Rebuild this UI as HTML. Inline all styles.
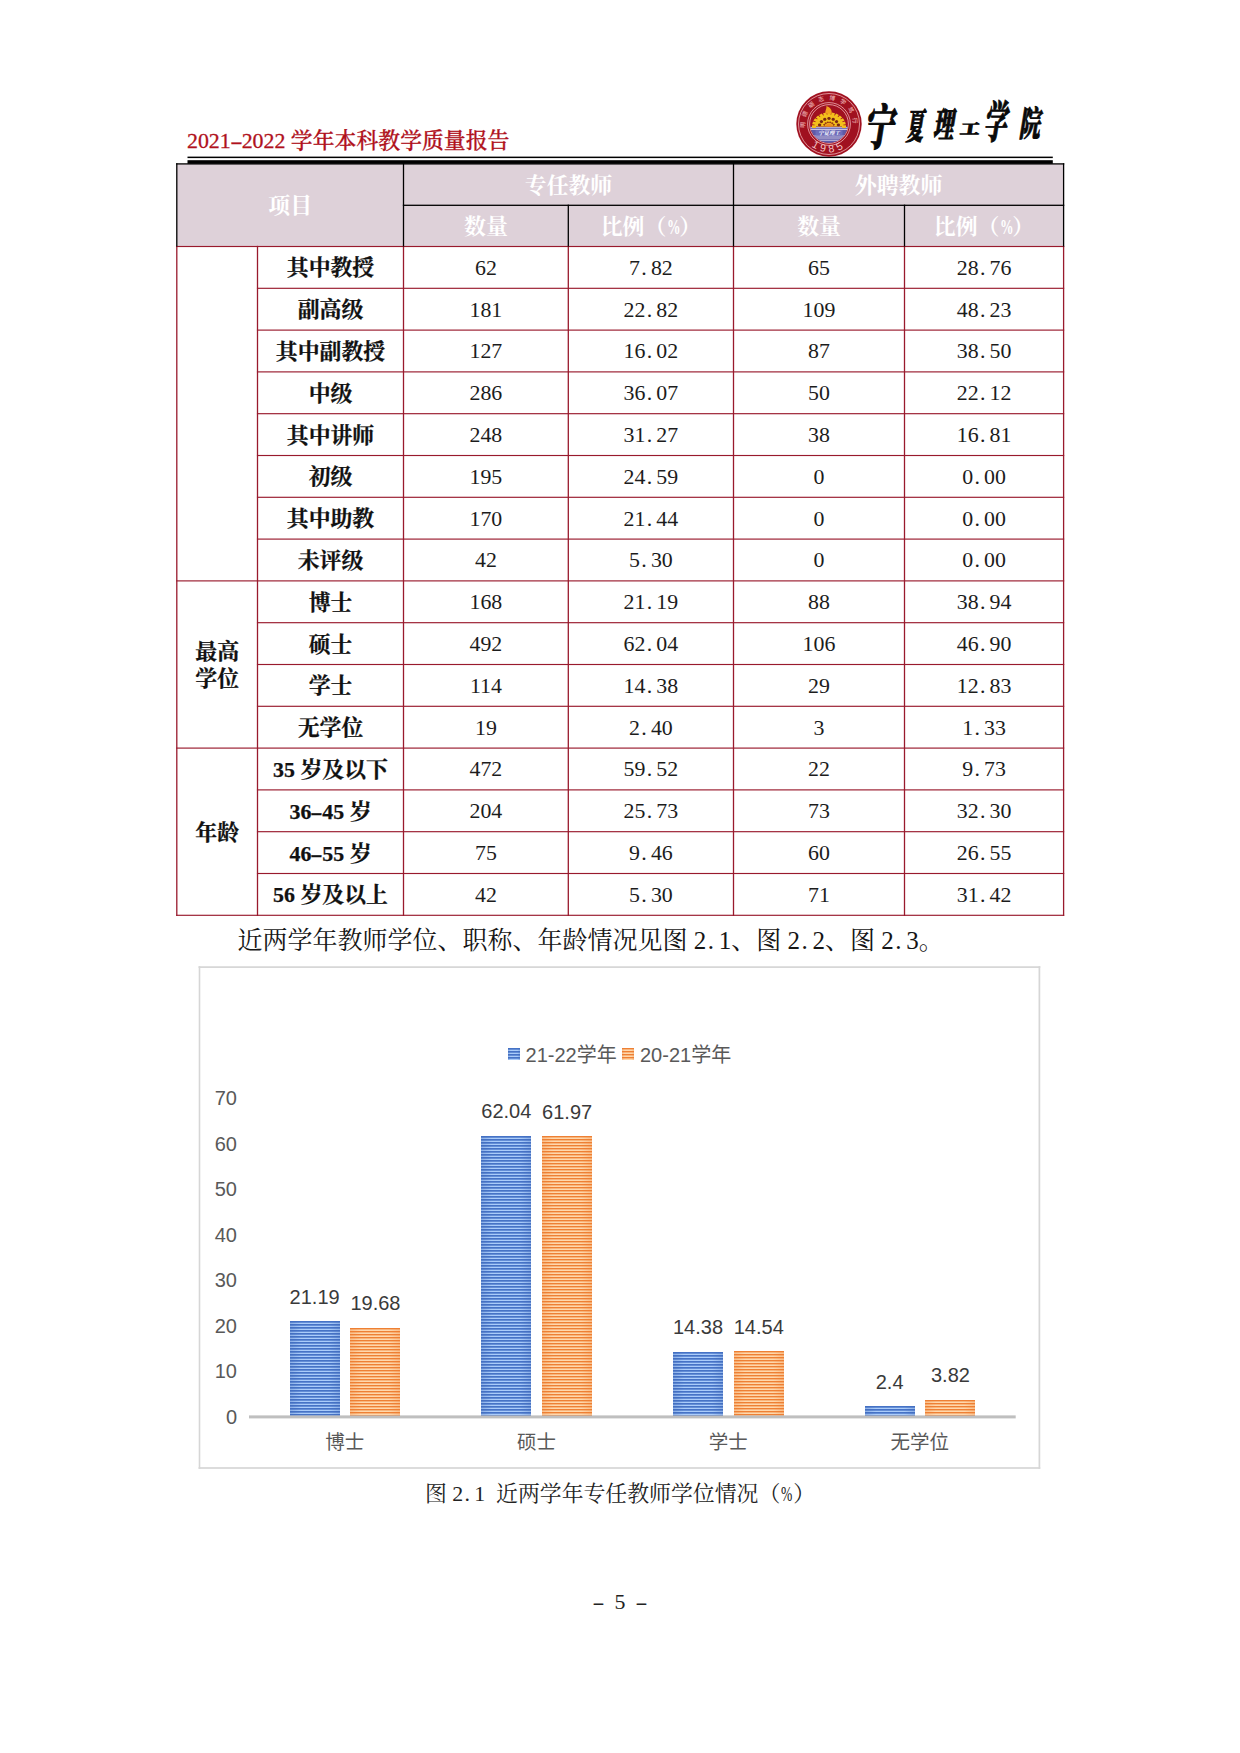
<!DOCTYPE html>
<html lang="zh-CN"><head><meta charset="utf-8"><title>2021-2022 学年本科教学质量报告</title>
<style>
html,body{margin:0;padding:0;background:#fff}
body{position:relative;width:1240px;height:1753px;overflow:hidden;font-family:"Liberation Serif","Noto Serif CJK SC",serif;color:#151515}
.ln{position:absolute}
.c{position:absolute;display:flex;align-items:center;justify-content:center;text-align:center;font-size:21.875px;line-height:27.5px;white-space:nowrap}
.c>span{display:inline-block;position:relative}
.lb>span,.th>span{top:1.8px}
.nm>span{top:1.1px}
.th{color:#fff;font-weight:700}
.lb{font-weight:700;color:#111;-webkit-text-stroke:0.25px #111}
.nm{color:#1c1c1c}
.dot{display:inline-block;width:0.5em;text-align:left;text-indent:0.06em}
.sp{display:inline-block;width:0.25em}
.hs{display:inline-block;width:0.5em}
.hy{display:inline-block;width:0.5em;text-align:center;transform:scaleX(1.7)}
.pc{display:inline-block;width:0.56em;margin-left:0.03em;transform:scaleX(.62);transform-origin:0 50%}
.hd{position:absolute;font-size:21.875px;line-height:30px;color:#b0111c;font-weight:500;white-space:nowrap;-webkit-text-stroke:0.3px #b0111c}
.para{position:absolute;font-size:25px;line-height:40px;white-space:nowrap;color:#151515}
.cap{position:absolute;font-size:21.875px;line-height:30px;text-align:center;white-space:nowrap;color:#222}
.chart{position:absolute;border:1.5px solid #d9d9d9;box-sizing:border-box;background:#fff}
.ax{position:absolute;font-family:"Liberation Sans","Noto Sans CJK SC",sans-serif;font-size:20px;line-height:24px;color:#595959;white-space:nowrap}
.yl{text-align:right}
.dl{text-align:center;color:#3a3a3a}
.cl{text-align:center;font-size:19.5px}
.bar{position:absolute}
.b1{background:linear-gradient(90deg,rgba(60,100,180,.28),rgba(60,100,180,0) 22%,rgba(60,100,180,0) 78%,rgba(60,100,180,.28)),linear-gradient(180deg,#4673c6 0,#4673c6 33.33%,#648ed6 33.33%,#648ed6 66.67%,#aaccfa 66.67%,#aaccfa 100%);background-size:100% 100%,100% 3px}
.b2{background:linear-gradient(90deg,rgba(237,125,49,.28),rgba(237,125,49,0) 22%,rgba(237,125,49,0) 78%,rgba(237,125,49,.28)),linear-gradient(180deg,#ee8034 0,#ee8034 33.33%,#f8b57c 33.33%,#f8b57c 66.67%,#ffd8ac 66.67%,#ffd8ac 100%);background-size:100% 100%,100% 3px}
.cal{position:absolute;-webkit-text-stroke:0.5px #0a0a0a;width:30px;height:30px;font-size:30px;line-height:30px;font-weight:900;color:#0a0a0a;font-family:"Liberation Serif","Noto Serif CJK SC",serif;text-align:center}
</style></head>
<body>
<svg class="ln" style="left:0;top:0" width="1240" height="1753" viewBox="0 0 1240 1753"><rect x="176.8" y="163.9" width="886.8" height="82.6" fill="#ded1d9"/><rect x="187.50" y="156.60" width="865.30" height="1.50" fill="#000"/><rect x="187.50" y="160.20" width="865.30" height="3.60" fill="#000"/><rect x="256.93" y="287.73" width="807.25" height="1.15" fill="#991a2d"/><rect x="256.93" y="329.53" width="807.25" height="1.15" fill="#991a2d"/><rect x="256.93" y="371.32" width="807.25" height="1.15" fill="#991a2d"/><rect x="256.93" y="413.12" width="807.25" height="1.15" fill="#991a2d"/><rect x="256.93" y="454.93" width="807.25" height="1.15" fill="#991a2d"/><rect x="256.93" y="496.72" width="807.25" height="1.15" fill="#991a2d"/><rect x="256.93" y="538.52" width="807.25" height="1.15" fill="#991a2d"/><rect x="176.23" y="580.32" width="887.95" height="1.15" fill="#991a2d"/><rect x="256.93" y="622.12" width="807.25" height="1.15" fill="#991a2d"/><rect x="256.93" y="663.92" width="807.25" height="1.15" fill="#991a2d"/><rect x="256.93" y="705.72" width="807.25" height="1.15" fill="#991a2d"/><rect x="176.23" y="747.52" width="887.95" height="1.15" fill="#991a2d"/><rect x="256.93" y="789.32" width="807.25" height="1.15" fill="#991a2d"/><rect x="256.93" y="831.12" width="807.25" height="1.15" fill="#991a2d"/><rect x="256.93" y="872.92" width="807.25" height="1.15" fill="#991a2d"/><rect x="176.23" y="914.72" width="887.95" height="1.15" fill="#991a2d"/><rect x="176.15" y="245.85" width="1.30" height="670.10" fill="#991a2d"/><rect x="256.85" y="245.85" width="1.30" height="670.10" fill="#991a2d"/><rect x="402.85" y="245.85" width="1.30" height="670.10" fill="#991a2d"/><rect x="567.65" y="245.85" width="1.30" height="670.10" fill="#991a2d"/><rect x="732.85" y="245.85" width="1.30" height="670.10" fill="#991a2d"/><rect x="903.85" y="245.85" width="1.30" height="670.10" fill="#991a2d"/><rect x="1062.95" y="245.85" width="1.30" height="670.10" fill="#991a2d"/><rect x="176.23" y="245.93" width="887.95" height="1.15" fill="#991a2d"/><rect x="176.15" y="163.25" width="888.10" height="1.30" fill="#000"/><rect x="402.85" y="204.65" width="661.40" height="1.30" fill="#000"/><rect x="176.15" y="163.25" width="1.30" height="83.30" fill="#000"/><rect x="402.85" y="163.25" width="1.30" height="83.30" fill="#000"/><rect x="732.85" y="163.25" width="1.30" height="83.30" fill="#000"/><rect x="1062.95" y="163.25" width="1.30" height="83.30" fill="#000"/><rect x="567.65" y="204.65" width="1.30" height="41.90" fill="#000"/><rect x="903.85" y="204.65" width="1.30" height="41.90" fill="#000"/><rect x="198.55" y="966.25" width="841.70" height="1.70" fill="#d6d6d6"/><rect x="198.55" y="1467.15" width="841.70" height="1.70" fill="#d6d6d6"/><rect x="198.70" y="966.20" width="1.60" height="502.60" fill="#d6d6d6"/><rect x="1038.55" y="966.15" width="1.70" height="502.70" fill="#d6d6d6"/></svg>
<div class="hd" style="left:187px;top:126px">2021<span class="hy">-</span>2022<span class="sp"></span>学年本科教学质量报告</div>
<div class="c th" style="left:176.80px;top:163.90px;width:226.70px;height:82.60px"><span>项目</span></div>
<div class="c th" style="left:403.50px;top:163.90px;width:330.00px;height:41.40px"><span>专任教师</span></div>
<div class="c th" style="left:733.50px;top:163.90px;width:330.10px;height:41.40px"><span>外聘教师</span></div>
<div class="c th" style="left:403.50px;top:205.30px;width:164.80px;height:41.20px"><span>数量</span></div>
<div class="c th" style="left:568.30px;top:205.30px;width:165.20px;height:41.20px"><span>比例（<span class="pc">%</span>）</span></div>
<div class="c th" style="left:733.50px;top:205.30px;width:171.00px;height:41.20px"><span>数量</span></div>
<div class="c th" style="left:904.50px;top:205.30px;width:159.10px;height:41.20px"><span>比例（<span class="pc">%</span>）</span></div>
<div class="c lb" style="left:257.50px;top:246.50px;width:146.00px;height:41.80px"><span>其中教授</span></div>
<div class="c nm" style="left:403.50px;top:246.50px;width:164.80px;height:41.80px"><span>62</span></div>
<div class="c nm" style="left:568.30px;top:246.50px;width:165.20px;height:41.80px"><span>7<span class="dot">.</span>82</span></div>
<div class="c nm" style="left:733.50px;top:246.50px;width:171.00px;height:41.80px"><span>65</span></div>
<div class="c nm" style="left:904.50px;top:246.50px;width:159.10px;height:41.80px"><span>28<span class="dot">.</span>76</span></div>
<div class="c lb" style="left:257.50px;top:288.30px;width:146.00px;height:41.80px"><span>副高级</span></div>
<div class="c nm" style="left:403.50px;top:288.30px;width:164.80px;height:41.80px"><span>181</span></div>
<div class="c nm" style="left:568.30px;top:288.30px;width:165.20px;height:41.80px"><span>22<span class="dot">.</span>82</span></div>
<div class="c nm" style="left:733.50px;top:288.30px;width:171.00px;height:41.80px"><span>109</span></div>
<div class="c nm" style="left:904.50px;top:288.30px;width:159.10px;height:41.80px"><span>48<span class="dot">.</span>23</span></div>
<div class="c lb" style="left:257.50px;top:330.10px;width:146.00px;height:41.80px"><span>其中副教授</span></div>
<div class="c nm" style="left:403.50px;top:330.10px;width:164.80px;height:41.80px"><span>127</span></div>
<div class="c nm" style="left:568.30px;top:330.10px;width:165.20px;height:41.80px"><span>16<span class="dot">.</span>02</span></div>
<div class="c nm" style="left:733.50px;top:330.10px;width:171.00px;height:41.80px"><span>87</span></div>
<div class="c nm" style="left:904.50px;top:330.10px;width:159.10px;height:41.80px"><span>38<span class="dot">.</span>50</span></div>
<div class="c lb" style="left:257.50px;top:371.90px;width:146.00px;height:41.80px"><span>中级</span></div>
<div class="c nm" style="left:403.50px;top:371.90px;width:164.80px;height:41.80px"><span>286</span></div>
<div class="c nm" style="left:568.30px;top:371.90px;width:165.20px;height:41.80px"><span>36<span class="dot">.</span>07</span></div>
<div class="c nm" style="left:733.50px;top:371.90px;width:171.00px;height:41.80px"><span>50</span></div>
<div class="c nm" style="left:904.50px;top:371.90px;width:159.10px;height:41.80px"><span>22<span class="dot">.</span>12</span></div>
<div class="c lb" style="left:257.50px;top:413.70px;width:146.00px;height:41.80px"><span>其中讲师</span></div>
<div class="c nm" style="left:403.50px;top:413.70px;width:164.80px;height:41.80px"><span>248</span></div>
<div class="c nm" style="left:568.30px;top:413.70px;width:165.20px;height:41.80px"><span>31<span class="dot">.</span>27</span></div>
<div class="c nm" style="left:733.50px;top:413.70px;width:171.00px;height:41.80px"><span>38</span></div>
<div class="c nm" style="left:904.50px;top:413.70px;width:159.10px;height:41.80px"><span>16<span class="dot">.</span>81</span></div>
<div class="c lb" style="left:257.50px;top:455.50px;width:146.00px;height:41.80px"><span>初级</span></div>
<div class="c nm" style="left:403.50px;top:455.50px;width:164.80px;height:41.80px"><span>195</span></div>
<div class="c nm" style="left:568.30px;top:455.50px;width:165.20px;height:41.80px"><span>24<span class="dot">.</span>59</span></div>
<div class="c nm" style="left:733.50px;top:455.50px;width:171.00px;height:41.80px"><span>0</span></div>
<div class="c nm" style="left:904.50px;top:455.50px;width:159.10px;height:41.80px"><span>0<span class="dot">.</span>00</span></div>
<div class="c lb" style="left:257.50px;top:497.30px;width:146.00px;height:41.80px"><span>其中助教</span></div>
<div class="c nm" style="left:403.50px;top:497.30px;width:164.80px;height:41.80px"><span>170</span></div>
<div class="c nm" style="left:568.30px;top:497.30px;width:165.20px;height:41.80px"><span>21<span class="dot">.</span>44</span></div>
<div class="c nm" style="left:733.50px;top:497.30px;width:171.00px;height:41.80px"><span>0</span></div>
<div class="c nm" style="left:904.50px;top:497.30px;width:159.10px;height:41.80px"><span>0<span class="dot">.</span>00</span></div>
<div class="c lb" style="left:257.50px;top:539.10px;width:146.00px;height:41.80px"><span>未评级</span></div>
<div class="c nm" style="left:403.50px;top:539.10px;width:164.80px;height:41.80px"><span>42</span></div>
<div class="c nm" style="left:568.30px;top:539.10px;width:165.20px;height:41.80px"><span>5<span class="dot">.</span>30</span></div>
<div class="c nm" style="left:733.50px;top:539.10px;width:171.00px;height:41.80px"><span>0</span></div>
<div class="c nm" style="left:904.50px;top:539.10px;width:159.10px;height:41.80px"><span>0<span class="dot">.</span>00</span></div>
<div class="c lb" style="left:257.50px;top:580.90px;width:146.00px;height:41.80px"><span>博士</span></div>
<div class="c nm" style="left:403.50px;top:580.90px;width:164.80px;height:41.80px"><span>168</span></div>
<div class="c nm" style="left:568.30px;top:580.90px;width:165.20px;height:41.80px"><span>21<span class="dot">.</span>19</span></div>
<div class="c nm" style="left:733.50px;top:580.90px;width:171.00px;height:41.80px"><span>88</span></div>
<div class="c nm" style="left:904.50px;top:580.90px;width:159.10px;height:41.80px"><span>38<span class="dot">.</span>94</span></div>
<div class="c lb" style="left:257.50px;top:622.70px;width:146.00px;height:41.80px"><span>硕士</span></div>
<div class="c nm" style="left:403.50px;top:622.70px;width:164.80px;height:41.80px"><span>492</span></div>
<div class="c nm" style="left:568.30px;top:622.70px;width:165.20px;height:41.80px"><span>62<span class="dot">.</span>04</span></div>
<div class="c nm" style="left:733.50px;top:622.70px;width:171.00px;height:41.80px"><span>106</span></div>
<div class="c nm" style="left:904.50px;top:622.70px;width:159.10px;height:41.80px"><span>46<span class="dot">.</span>90</span></div>
<div class="c lb" style="left:257.50px;top:664.50px;width:146.00px;height:41.80px"><span>学士</span></div>
<div class="c nm" style="left:403.50px;top:664.50px;width:164.80px;height:41.80px"><span>114</span></div>
<div class="c nm" style="left:568.30px;top:664.50px;width:165.20px;height:41.80px"><span>14<span class="dot">.</span>38</span></div>
<div class="c nm" style="left:733.50px;top:664.50px;width:171.00px;height:41.80px"><span>29</span></div>
<div class="c nm" style="left:904.50px;top:664.50px;width:159.10px;height:41.80px"><span>12<span class="dot">.</span>83</span></div>
<div class="c lb" style="left:257.50px;top:706.30px;width:146.00px;height:41.80px"><span>无学位</span></div>
<div class="c nm" style="left:403.50px;top:706.30px;width:164.80px;height:41.80px"><span>19</span></div>
<div class="c nm" style="left:568.30px;top:706.30px;width:165.20px;height:41.80px"><span>2<span class="dot">.</span>40</span></div>
<div class="c nm" style="left:733.50px;top:706.30px;width:171.00px;height:41.80px"><span>3</span></div>
<div class="c nm" style="left:904.50px;top:706.30px;width:159.10px;height:41.80px"><span>1<span class="dot">.</span>33</span></div>
<div class="c lb" style="left:257.50px;top:748.10px;width:146.00px;height:41.80px"><span>35<span class="sp"></span>岁及以下</span></div>
<div class="c nm" style="left:403.50px;top:748.10px;width:164.80px;height:41.80px"><span>472</span></div>
<div class="c nm" style="left:568.30px;top:748.10px;width:165.20px;height:41.80px"><span>59<span class="dot">.</span>52</span></div>
<div class="c nm" style="left:733.50px;top:748.10px;width:171.00px;height:41.80px"><span>22</span></div>
<div class="c nm" style="left:904.50px;top:748.10px;width:159.10px;height:41.80px"><span>9<span class="dot">.</span>73</span></div>
<div class="c lb" style="left:257.50px;top:789.90px;width:146.00px;height:41.80px"><span>36<span class="hy">-</span>45<span class="sp"></span>岁</span></div>
<div class="c nm" style="left:403.50px;top:789.90px;width:164.80px;height:41.80px"><span>204</span></div>
<div class="c nm" style="left:568.30px;top:789.90px;width:165.20px;height:41.80px"><span>25<span class="dot">.</span>73</span></div>
<div class="c nm" style="left:733.50px;top:789.90px;width:171.00px;height:41.80px"><span>73</span></div>
<div class="c nm" style="left:904.50px;top:789.90px;width:159.10px;height:41.80px"><span>32<span class="dot">.</span>30</span></div>
<div class="c lb" style="left:257.50px;top:831.70px;width:146.00px;height:41.80px"><span>46<span class="hy">-</span>55<span class="sp"></span>岁</span></div>
<div class="c nm" style="left:403.50px;top:831.70px;width:164.80px;height:41.80px"><span>75</span></div>
<div class="c nm" style="left:568.30px;top:831.70px;width:165.20px;height:41.80px"><span>9<span class="dot">.</span>46</span></div>
<div class="c nm" style="left:733.50px;top:831.70px;width:171.00px;height:41.80px"><span>60</span></div>
<div class="c nm" style="left:904.50px;top:831.70px;width:159.10px;height:41.80px"><span>26<span class="dot">.</span>55</span></div>
<div class="c lb" style="left:257.50px;top:873.50px;width:146.00px;height:41.80px"><span>56<span class="sp"></span>岁及以上</span></div>
<div class="c nm" style="left:403.50px;top:873.50px;width:164.80px;height:41.80px"><span>42</span></div>
<div class="c nm" style="left:568.30px;top:873.50px;width:165.20px;height:41.80px"><span>5<span class="dot">.</span>30</span></div>
<div class="c nm" style="left:733.50px;top:873.50px;width:171.00px;height:41.80px"><span>71</span></div>
<div class="c nm" style="left:904.50px;top:873.50px;width:159.10px;height:41.80px"><span>31<span class="dot">.</span>42</span></div>
<div class="c lb grp" style="left:176.80px;top:580.90px;width:80.70px;height:167.20px"><span>最高<br>学位</span></div>
<div class="c lb grp" style="left:176.80px;top:748.10px;width:80.70px;height:167.20px"><span>年龄</span></div>
<div class="para" style="left:237.5px;top:921px">近两学年教师学位、职称、年龄情况见图<span class="sp"></span>2<span class="dot">.</span>1、图<span class="sp"></span>2<span class="dot">.</span>2、图<span class="sp"></span>2<span class="dot">.</span>3。</div>
<div class="ax yl" style="left:199.5px;top:1404.90px;width:37.5px">0</div>
<div class="ax yl" style="left:199.5px;top:1359.40px;width:37.5px">10</div>
<div class="ax yl" style="left:199.5px;top:1313.90px;width:37.5px">20</div>
<div class="ax yl" style="left:199.5px;top:1268.40px;width:37.5px">30</div>
<div class="ax yl" style="left:199.5px;top:1222.90px;width:37.5px">40</div>
<div class="ax yl" style="left:199.5px;top:1177.40px;width:37.5px">50</div>
<div class="ax yl" style="left:199.5px;top:1131.90px;width:37.5px">60</div>
<div class="ax yl" style="left:199.5px;top:1086.40px;width:37.5px">70</div>
<div class="bar b1" style="left:289.64px;top:1321px;width:50px;height:96px"></div>
<div class="ax dl" style="left:264.64px;top:1284.60px;width:100px">21.19</div>
<div class="bar b2" style="left:350.44px;top:1328px;width:50px;height:89px"></div>
<div class="ax dl" style="left:325.44px;top:1291.45px;width:100px">19.68</div>
<div class="ax cl" style="left:284.84px;top:1430.30px;width:120px">博士</div>
<div class="bar b1" style="left:481.31px;top:1136px;width:50px;height:281px"></div>
<div class="ax dl" style="left:456.31px;top:1099.35px;width:100px">62.04</div>
<div class="bar b2" style="left:542.11px;top:1136px;width:50px;height:281px"></div>
<div class="ax dl" style="left:517.11px;top:1099.67px;width:100px">61.97</div>
<div class="ax cl" style="left:476.51px;top:1430.30px;width:120px">硕士</div>
<div class="bar b1" style="left:672.99px;top:1352px;width:50px;height:65px"></div>
<div class="ax dl" style="left:647.99px;top:1315.49px;width:100px">14.38</div>
<div class="bar b2" style="left:733.79px;top:1351px;width:50px;height:66px"></div>
<div class="ax dl" style="left:708.79px;top:1314.76px;width:100px">14.54</div>
<div class="ax cl" style="left:668.19px;top:1430.30px;width:120px">学士</div>
<div class="bar b1" style="left:864.66px;top:1406px;width:50px;height:11px"></div>
<div class="ax dl" style="left:839.66px;top:1369.82px;width:100px">2.4</div>
<div class="bar b2" style="left:925.46px;top:1400px;width:50px;height:17px"></div>
<div class="ax dl" style="left:900.46px;top:1363.38px;width:100px">3.82</div>
<div class="ax cl" style="left:859.86px;top:1430.30px;width:120px">无学位</div>
<svg class="ln" style="left:0;top:0;pointer-events:none" width="1240" height="1753" viewBox="0 0 1240 1753"><rect x="249.0" y="1415.4" width="766.70" height="3" fill="#bfbfbf"/></svg>
<div class="bar b1" style="left:507.5px;top:1048px;width:12.6px;height:12px"></div>
<div class="ax lg" style="left:525.6px;top:1043.3px">21-22学年</div>
<div class="bar b2" style="left:621.8px;top:1048px;width:12.6px;height:12px"></div>
<div class="ax lg" style="left:640px;top:1043.3px">20-21学年</div>
<div class="cap" style="left:0;top:1479px;width:1240px">图<span class="sp"></span>2<span class="dot">.</span>1<span class="hs"></span>近两学年专任教师学位情况（<span class="pc">%</span>）</div>
<div class="cap" style="left:0;top:1587px;width:1240px"><span class="hy">-</span><span class="hs"></span>5<span class="hs"></span><span class="hy">-</span></div>
<svg class="ln" style="left:795.4px;top:89.7px" width="68" height="68" viewBox="-34 -34 68 68"><defs><path id="arcT" d="M -23.2 6.2 A 24 24 0 1 1 23.2 6.2"/><path id="arcB" d="M -22.2 17.5 A 28.3 28.3 0 0 0 22.2 17.5"/><clipPath id="inner"><circle r="18.9"/></clipPath></defs><circle r="32.7" fill="#a01120"/><circle r="30.5" fill="none" stroke="#f0b3b6" stroke-width="0.8"/><circle r="21.4" fill="none" stroke="#f0b3b6" stroke-width="0.8"/><circle r="19.4" fill="none" stroke="#f0b3b6" stroke-width="0.8"/><text font-family='"Liberation Sans","Noto Sans CJK SC",sans-serif' font-size="5.8" fill="#e39a9e" font-weight="700" text-anchor="middle" letter-spacing="4.6"><textPath href="#arcT" startOffset="50%">明德砺志博学笃行</textPath></text><text font-family='"Liberation Sans","Noto Sans CJK SC",sans-serif' font-size="10.6" fill="#f3c4c6" text-anchor="middle" letter-spacing="3.6"><textPath href="#arcB" startOffset="50%">1985</textPath></text><g clip-path="url(#inner)"><rect x="-20" y="2.6" width="40" height="20" fill="#5f5aa8"/><rect x="-20" y="3.4" width="40" height="0.8" fill="#e4def0"/><rect x="-20" y="5.2" width="40" height="0.8" fill="#e4def0"/><rect x="-20" y="11.6" width="40" height="0.8" fill="#e4def0"/><rect x="-20" y="13.6" width="40" height="0.8" fill="#e4def0"/><rect x="-20" y="15.8" width="40" height="0.8" fill="#e4def0"/><rect x="-13.5" y="6.1" width="27" height="5.4" fill="#6d6cba"/><text x="0" y="10.6" font-family='"Liberation Serif","Noto Serif CJK SC",serif' font-size="5.4" font-weight="700" fill="#fff" text-anchor="middle" font-style="italic">宁夏理工</text><g transform="translate(0,2.6) scale(1,0.84)"><rect x="-1.6" y="-17" width="3.2" height="4" fill="#f4c01c" transform="rotate(-90)"/><rect x="-1.6" y="-17" width="3.2" height="4" fill="#f4c01c" transform="rotate(-75)"/><rect x="-1.6" y="-17" width="3.2" height="4" fill="#f4c01c" transform="rotate(-60)"/><rect x="-1.6" y="-17" width="3.2" height="4" fill="#f4c01c" transform="rotate(-45)"/><rect x="-1.6" y="-17" width="3.2" height="4" fill="#f4c01c" transform="rotate(-30)"/><rect x="-1.6" y="-17" width="3.2" height="4" fill="#f4c01c" transform="rotate(-15)"/><rect x="-1.6" y="-17" width="3.2" height="4" fill="#f4c01c" transform="rotate(0)"/><rect x="-1.6" y="-17" width="3.2" height="4" fill="#f4c01c" transform="rotate(15)"/><rect x="-1.6" y="-17" width="3.2" height="4" fill="#f4c01c" transform="rotate(30)"/><rect x="-1.6" y="-17" width="3.2" height="4" fill="#f4c01c" transform="rotate(45)"/><rect x="-1.6" y="-17" width="3.2" height="4" fill="#f4c01c" transform="rotate(60)"/><rect x="-1.6" y="-17" width="3.2" height="4" fill="#f4c01c" transform="rotate(75)"/><rect x="-1.6" y="-17" width="3.2" height="4" fill="#f4c01c" transform="rotate(90)"/><path d="M -14.4 0 A 14.4 14.4 0 0 1 14.4 0 Z" fill="#f4c01c"/><circle cx="0" cy="-9.6" r="1.7" fill="#7a2a12" transform="rotate(-78)"/><circle cx="0" cy="-9.6" r="1.7" fill="#7a2a12" transform="rotate(-52)"/><circle cx="0" cy="-9.6" r="1.7" fill="#7a2a12" transform="rotate(-26)"/><circle cx="0" cy="-9.6" r="1.7" fill="#7a2a12" transform="rotate(0)"/><circle cx="0" cy="-9.6" r="1.7" fill="#7a2a12" transform="rotate(26)"/><circle cx="0" cy="-9.6" r="1.7" fill="#7a2a12" transform="rotate(52)"/><circle cx="0" cy="-9.6" r="1.7" fill="#7a2a12" transform="rotate(78)"/><circle cx="0" cy="-5.2" r="1.1" fill="#9a3a12" transform="rotate(-65)"/><circle cx="0" cy="-5.2" r="1.1" fill="#9a3a12" transform="rotate(-39)"/><circle cx="0" cy="-5.2" r="1.1" fill="#9a3a12" transform="rotate(-13)"/><circle cx="0" cy="-5.2" r="1.1" fill="#9a3a12" transform="rotate(13)"/><circle cx="0" cy="-5.2" r="1.1" fill="#9a3a12" transform="rotate(39)"/><circle cx="0" cy="-5.2" r="1.1" fill="#9a3a12" transform="rotate(65)"/><path d="M -3.4 0 A 3.4 3.4 0 0 1 3.4 0 Z" fill="#ef8d1d"/><path d="M -3.4 -15.5 C -4.2 -19 -2.2 -20.5 -2.6 -24.5 C 0.4 -23.5 3.6 -20 2.6 -15 Z" fill="#f3a31e"/></g></g></svg>
<div class="cal" style="left:866.40px;top:113.60px;transform:skewX(-9deg) scale(0.988,1.629);-webkit-text-stroke-width:0.6px">宁</div>
<div class="cal" style="left:900.50px;top:112.10px;transform:skewX(-9deg) scale(0.579,1.181);-webkit-text-stroke-width:0.9px">夏</div>
<div class="cal" style="left:929.60px;top:111.25px;transform:skewX(-9deg) scale(0.678,1.144);-webkit-text-stroke-width:0.8px">理</div>
<div class="cal" style="left:954.85px;top:114.00px;transform:skewX(-9deg) scale(0.657,0.483);-webkit-text-stroke-width:1.8px">工</div>
<div class="cal" style="left:982.40px;top:108.25px;transform:skewX(-9deg) scale(0.772,1.484);-webkit-text-stroke-width:0.6px">学</div>
<div class="cal" style="left:1016.40px;top:109.20px;transform:skewX(-9deg) scale(0.698,1.159);-webkit-text-stroke-width:0.8px">院</div>
</body></html>
